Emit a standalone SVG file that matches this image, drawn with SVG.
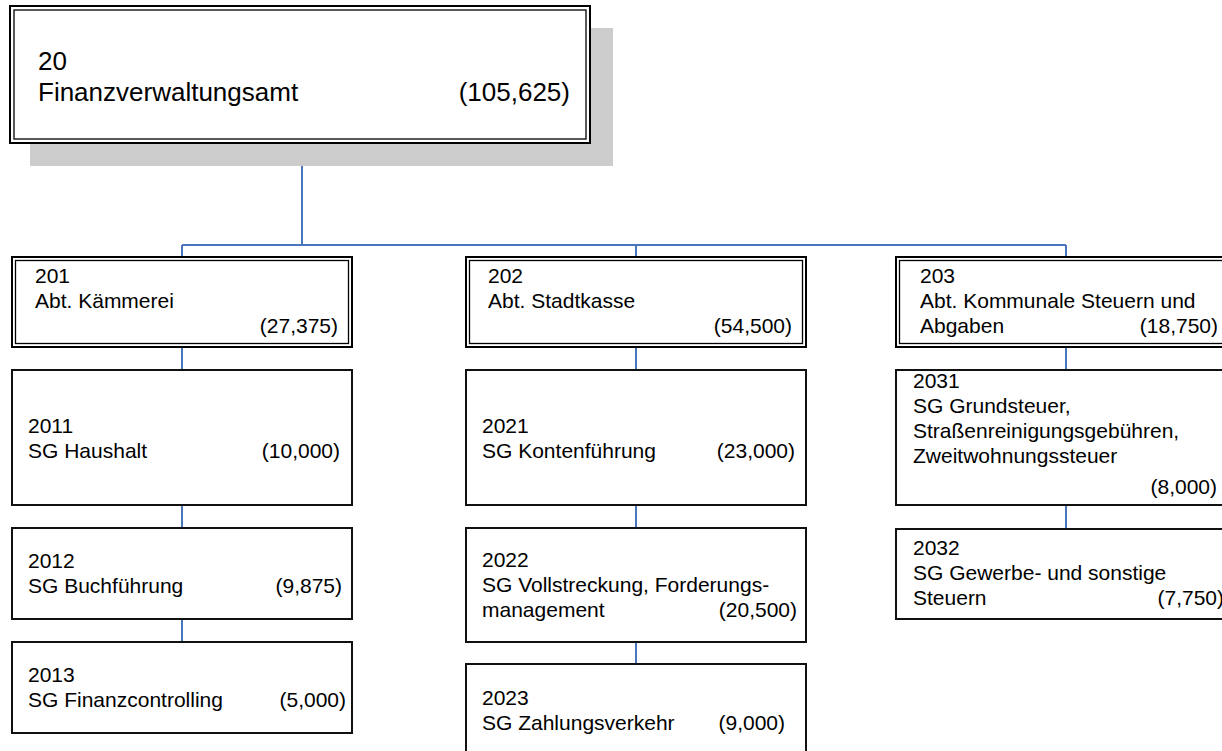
<svg xmlns="http://www.w3.org/2000/svg" width="1222" height="751" viewBox="0 0 1222 751">
<style>
text{font-family:"Liberation Sans",Arial,sans-serif;fill:#000;font-size:21px}
.big{font-size:26px}
.r{text-anchor:end}
.o{fill:#fff;stroke:#000;stroke-width:2}
.i{fill:none;stroke:#000;stroke-width:1.3}
.b{fill:#fff;stroke:#111;stroke-width:2}
.c{fill:none;stroke:#4A76BE;stroke-width:2}
</style>
<rect width="1222" height="751" fill="#fff"/>
<g id="connectors">
<path class="c" d="M302 144V245M182 245H1066M182 245V257M636 245V257M1066 245V257"/>
<path class="c" d="M182 347V370M182 505V528M182 619V642"/>
<path class="c" d="M636 347V370M636 505V528M636 642V664"/>
<path class="c" d="M1066 347V370M1066 505V529"/>
</g>
<g id="n20">
<rect x="30" y="28" width="583" height="138" fill="#CCCCCC"/>
<rect class="o" x="10" y="6" width="580" height="137"/>
<rect class="i" x="14" y="10" width="572" height="129"/>
<text class="big" x="38" y="70">20</text>
<text class="big" x="38" y="101">Finanzverwaltungsamt</text>
<text class="big r" x="570" y="101">(105,625)</text>
</g>
<g id="n201">
<rect class="o" x="12" y="257" width="340" height="90"/>
<rect class="i" x="15.5" y="260.5" width="333" height="83"/>
<text x="35" y="283">201</text>
<text x="35" y="308">Abt. Kämmerei</text>
<text class="r" x="338" y="333">(27,375)</text>
</g>
<g id="n202">
<rect class="o" x="466" y="257" width="340" height="90"/>
<rect class="i" x="469.5" y="260.5" width="333" height="83"/>
<text x="488" y="283">202</text>
<text x="488" y="308">Abt. Stadtkasse</text>
<text class="r" x="792" y="333">(54,500)</text>
</g>
<g id="n203">
<rect class="o" x="896" y="257" width="340" height="90"/>
<rect class="i" x="899.5" y="260.5" width="333" height="83"/>
<text x="920" y="283">203</text>
<text x="920" y="308">Abt. Kommunale Steuern und</text>
<text x="920" y="333">Abgaben</text>
<text class="r" x="1218" y="333">(18,750)</text>
</g>
<g id="n2011">
<rect class="b" x="12" y="370" width="340" height="135"/>
<text x="28" y="433">2011</text>
<text x="28" y="458">SG Haushalt</text>
<text class="r" x="340" y="458">(10,000)</text>
</g>
<g id="n2012">
<rect class="b" x="12" y="528" width="340" height="91"/>
<text x="28" y="568">2012</text>
<text x="28" y="593">SG Buchführung</text>
<text class="r" x="342" y="593">(9,875)</text>
</g>
<g id="n2013">
<rect class="b" x="12" y="642" width="340" height="91"/>
<text x="28" y="682">2013</text>
<text x="28" y="707">SG Finanzcontrolling</text>
<text class="r" x="346" y="707">(5,000)</text>
</g>
<g id="n2021">
<rect class="b" x="466" y="370" width="340" height="135"/>
<text x="482" y="433">2021</text>
<text x="482" y="458">SG Kontenführung</text>
<text class="r" x="795" y="458">(23,000)</text>
</g>
<g id="n2022">
<rect class="b" x="466" y="528" width="340" height="114"/>
<text x="482" y="567">2022</text>
<text x="482" y="592">SG Vollstreckung, Forderungs-</text>
<text x="482" y="617">management</text>
<text class="r" x="797" y="617">(20,500)</text>
</g>
<g id="n2023">
<rect class="b" x="466" y="664" width="340" height="100"/>
<text x="482" y="705">2023</text>
<text x="482" y="730">SG Zahlungsverkehr</text>
<text class="r" x="785" y="730">(9,000)</text>
</g>
<g id="n2031">
<rect class="b" x="896" y="370" width="340" height="135"/>
<text x="913" y="388">2031</text>
<text x="913" y="413">SG Grundsteuer,</text>
<text x="913" y="438">Straßenreinigungsgebühren,</text>
<text x="913" y="463">Zweitwohnungssteuer</text>
<text class="r" x="1217" y="494">(8,000)</text>
</g>
<g id="n2032">
<rect class="b" x="896" y="529" width="340" height="90"/>
<text x="913" y="555">2032</text>
<text x="913" y="580">SG Gewerbe- und sonstige</text>
<text x="913" y="605">Steuern</text>
<text class="r" x="1224" y="605">(7,750)</text>
</g>
</svg>
